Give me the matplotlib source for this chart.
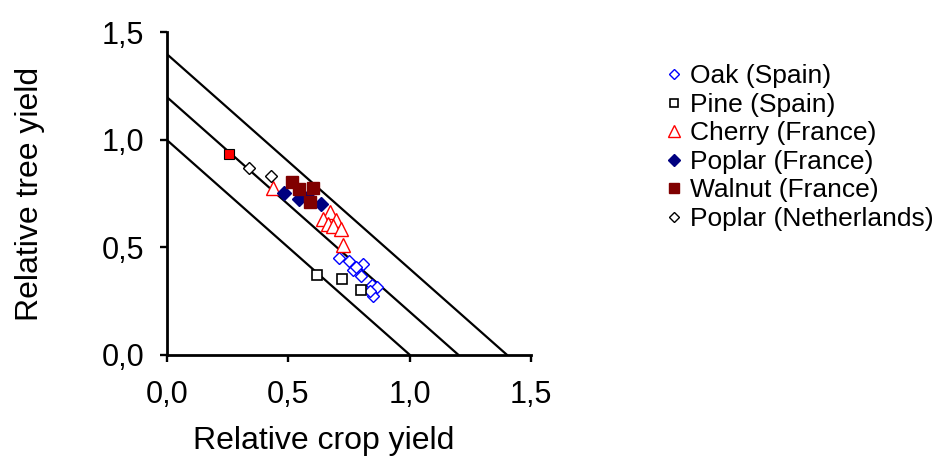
import numpy as np
import matplotlib
matplotlib.use('Agg')
from matplotlib import pyplot as plt
from matplotlib.ticker import FuncFormatter

plt.rcParams['font.family'] = ['Liberation Sans', 'DejaVu Sans']

# data (relative crop yield, relative tree yield)
oak_x = [0.709, 0.751, 0.767, 0.809, 0.802, 0.780, 0.844, 0.864, 0.850, 0.838]
oak_y = [0.449, 0.438, 0.396, 0.423, 0.368, 0.410, 0.322, 0.314, 0.275, 0.295]
pine_x = [0.620, 0.722, 0.799]
pine_y = [0.372, 0.353, 0.302]
cherry_x = [0.438, 0.674, 0.643, 0.698, 0.664, 0.684, 0.719, 0.726]
cherry_y = [0.774, 0.662, 0.632, 0.628, 0.608, 0.597, 0.585, 0.511]
poplar_fr_x = [0.484, 0.546, 0.580, 0.636]
poplar_fr_y = [0.751, 0.725, 0.735, 0.701]
walnut_x = [0.514, 0.543, 0.601, 0.590]
walnut_y = [0.805, 0.771, 0.776, 0.709]
poplar_nl_x = [0.339, 0.430]
poplar_nl_y = [0.870, 0.831]
extra_x = [0.256]
extra_y = [0.933]

# reference lines: crop + tree = 1.0, 1.2, 1.4
ler_values = [1.0, 1.2, 1.4]

fig = plt.figure(figsize=(9.37, 4.57), dpi=100)
ax = fig.add_axes([0.1779, 0.224, 0.3888, 0.705])

for ler in ler_values:
    ax.plot([0, ler], [ler, 0], color='black', lw=1.6, zorder=1)

ax.plot(oak_x, oak_y, ls='none', marker='D', ms=6.5, mfc='white', mec='#0000ff', mew=1.0, label='Oak (Spain)', zorder=3)
ax.plot(pine_x, pine_y, ls='none', marker='s', ms=7.5, mfc='white', mec='black', mew=1.2, label='Pine (Spain)', zorder=3)
ax.plot(cherry_x, cherry_y, ls='none', marker='^', ms=10.5, mfc='white', mec='#ff0000', mew=1.0, label='Cherry (France)', zorder=3)
ax.plot(poplar_fr_x, poplar_fr_y, ls='none', marker='D', ms=7, mfc='#000080', mec='#000080', label='Poplar (France)', zorder=4)
ax.plot(walnut_x, walnut_y, ls='none', marker='s', ms=8.5, mfc='#800000', mec='#800000', label='Walnut (France)', zorder=4)
ax.plot(poplar_nl_x, poplar_nl_y, ls='none', marker='D', ms=6.3, mfc='white', mec='black', mew=1.0, label='Poplar (Netherlands)', zorder=3)
ax.plot(extra_x, extra_y, ls='none', marker='s', ms=7.5, mfc='#ff0000', mec='black', mew=0.8, label='_nolegend_', zorder=4)

ax.set_xlim(0, 1.5)
ax.set_ylim(0, 1.5)
ax.set_xticks([0, 0.5, 1.0, 1.5])
ax.set_yticks([0, 0.5, 1.0, 1.5])
fmt = FuncFormatter(lambda v, p: ('%.1f' % v).replace('.', ','))
ax.xaxis.set_major_formatter(fmt)
ax.yaxis.set_major_formatter(fmt)
ax.tick_params(direction='out', length=5, width=1.7, labelsize=22)
ax.tick_params(axis='x', pad=13)
ax.tick_params(axis='y', pad=11)
for side in ['top', 'right']:
    ax.spines[side].set_visible(False)
for side in ['left', 'bottom']:
    ax.spines[side].set_linewidth(2)

ax.set_xlabel('Relative crop yield', fontsize=23)
ax.set_ylabel('Relative tree yield', fontsize=23)
ax.xaxis.set_label_coords(0.43, -0.222)
ax.yaxis.set_label_coords(-0.335, 0.5)

fig.legend(loc='upper left', bbox_to_anchor=(0.711, 0.859), frameon=False,
           fontsize=19, markerscale=0.85, handlelength=0.6, handletextpad=0.3,
           labelspacing=0.17, borderpad=0, borderaxespad=0)

plt.savefig('out.png', dpi=100)
